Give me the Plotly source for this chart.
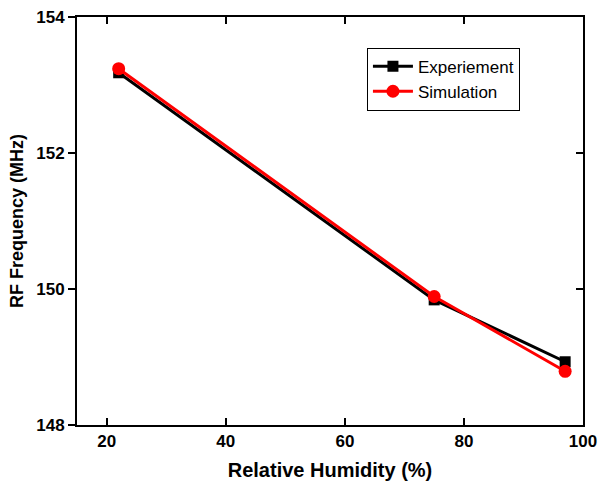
import plotly.graph_objects as go

humidity = [22, 75, 97]
experiment = [153.18, 149.84, 148.93]
simulation = [153.24, 149.89, 148.79]

x_ticks = [20, 40, 60, 80, 100]
y_ticks = [148, 150, 152, 154]

fig = go.Figure()
fig.add_trace(go.Scatter(
    x=humidity, y=experiment, name="Experiement", mode="lines+markers",
    line=dict(color="black", width=3),
    marker=dict(symbol="square", size=11, color="black")))
fig.add_trace(go.Scatter(
    x=humidity, y=simulation, name="Simulation", mode="lines+markers",
    line=dict(color="#ff0000", width=3),
    marker=dict(symbol="circle", size=13, color="#ff0000")))
# invisible trace to anchor mirrored axes
fig.add_trace(go.Scatter(x=[humidity[0]], y=[experiment[0]], xaxis="x2", yaxis="y2",
                         mode="markers", marker=dict(opacity=0), showlegend=False,
                         hoverinfo="skip"))

FAM = "Arial, Liberation Sans"
font_b = dict(family=FAM, size=17, color="black")
fig.update_layout(
    width=606, height=481,
    margin=dict(l=77, r=23, t=17, b=56),
    paper_bgcolor="white", plot_bgcolor="white",
    showlegend=True,
    legend=dict(x=0.573, y=0.925, xanchor="left", yanchor="top",
                bordercolor="black", borderwidth=1, bgcolor="white",
                font=dict(family=FAM, size=17, color="black"),
                tracegroupgap=0, itemwidth=40),
    xaxis=dict(range=[15, 100], tickvals=x_ticks, ticktext=[f"<b>{v}</b>" for v in x_ticks],
               ticks="inside", ticklen=7, tickwidth=2, automargin=False,
               tickcolor="black", showline=True, linewidth=2, linecolor="black",
               showgrid=False, zeroline=False,
               tickfont=font_b,
               title=dict(text="<b>Relative Humidity (%)</b>",
                          font=dict(family=FAM, size=20, color="black"),
                          standoff=15)),
    yaxis=dict(range=[148, 154], tickvals=y_ticks, ticktext=[f"<b>{v}</b>" for v in y_ticks],
               ticks="outside", ticklen=7, tickwidth=2, automargin=False,
               tickcolor="black", showline=True, linewidth=2, linecolor="black",
               showgrid=False, zeroline=False,
               tickfont=font_b,
               title=dict(text="<b>RF Frequency (MHz)</b>",
                          font=dict(family=FAM, size=18, color="black"),
                          standoff=8)),
    xaxis2=dict(range=[15, 100], tickvals=x_ticks, overlaying="x", side="top", anchor="y2",
                ticks="inside", ticklen=7, tickwidth=2, tickcolor="black", automargin=False,
                showline=True, linewidth=2, linecolor="black", showticklabels=False,
                showgrid=False, zeroline=False),
    yaxis2=dict(range=[148, 154], tickvals=y_ticks, overlaying="y", side="right", anchor="x2",
                ticks="inside", ticklen=7, tickwidth=2, tickcolor="black", automargin=False,
                showline=True, linewidth=2, linecolor="black", showticklabels=False,
                showgrid=False, zeroline=False),
)
fig.write_html("out.html")
